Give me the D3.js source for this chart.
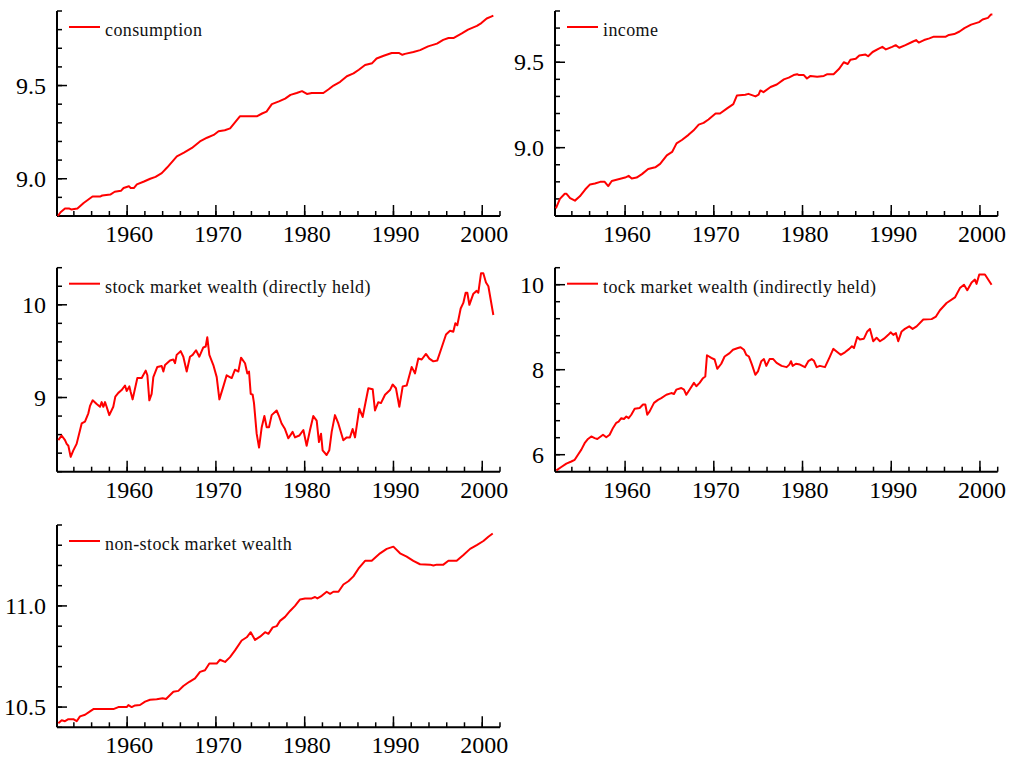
<!DOCTYPE html>
<html>
<head>
<meta charset="utf-8">
<script src="https://cdn.jsdelivr.net/npm/d3@7"></script>
<style>
  body { margin: 0; background: #fff; }
  svg { display: block; font-family: "Liberation Serif", "Times New Roman", serif; }
</style>
</head>
<body>
<svg width="1010" height="758"></svg>
<script>
// x axis: year ticks
var yearDomain = [1952.1, 2002];
var yearLabels = [1960, 1970, 1980, 1990, 2000];
var yearMinor = d3.range(1954, 2003, 2);

// series: [year, log value]
var consumption = [[1952.2,8.80],[1952.5,8.82],[1953.0,8.84],[1953.5,8.84],[1953.7,8.835],[1954.4,8.84],[1955.1,8.87],[1956.1,8.905],[1957.0,8.905],[1957.2,8.91],[1958.1,8.915],[1958.6,8.93],[1959.3,8.935],[1959.6,8.95],[1960.2,8.96],[1960.4,8.95],[1960.75,8.95],[1961.1,8.97],[1961.9,8.985],[1962.6,9.0],[1963.2,9.01],[1963.9,9.03],[1964.5,9.06],[1965.6,9.12],[1966.4,9.14],[1967.3,9.165],[1968.2,9.20],[1969.0,9.22],[1969.75,9.235],[1970.3,9.255],[1971.0,9.26],[1971.6,9.27],[1972.7,9.335],[1974.6,9.335],[1975.2,9.35],[1975.7,9.36],[1976.3,9.40],[1977.1,9.415],[1977.8,9.43],[1978.4,9.45],[1979.1,9.46],[1979.7,9.47],[1980.25,9.455],[1980.8,9.46],[1982.1,9.46],[1982.7,9.48],[1983.25,9.50],[1984.0,9.52],[1984.75,9.55],[1985.5,9.565],[1986.1,9.585],[1986.8,9.61],[1987.6,9.62],[1988.1,9.645],[1988.9,9.66],[1989.8,9.675],[1990.6,9.675],[1991.0,9.665],[1991.3,9.67],[1992.25,9.68],[1993.0,9.69],[1993.9,9.71],[1994.9,9.725],[1995.6,9.745],[1996.2,9.755],[1996.75,9.755],[1997.7,9.78],[1998.4,9.80],[1999.4,9.82],[1999.9,9.835],[2000.5,9.86],[2001.0,9.87],[2001.25,9.875]];

var income = [[1952.2,8.645],[1952.65,8.70],[1953.2,8.73],[1953.4,8.73],[1953.8,8.705],[1954.35,8.69],[1954.9,8.715],[1955.5,8.755],[1956.05,8.785],[1956.6,8.79],[1957.2,8.80],[1957.7,8.80],[1958.1,8.775],[1958.5,8.805],[1959.25,8.815],[1960.0,8.825],[1960.4,8.835],[1960.75,8.82],[1961.3,8.825],[1961.9,8.845],[1962.6,8.875],[1963.4,8.885],[1963.95,8.905],[1964.7,8.955],[1965.3,8.975],[1965.8,9.025],[1966.4,9.045],[1967.15,9.075],[1967.7,9.10],[1968.3,9.135],[1968.85,9.145],[1969.4,9.165],[1970.2,9.20],[1970.7,9.20],[1971.5,9.23],[1972.2,9.255],[1972.6,9.305],[1973.55,9.31],[1973.9,9.315],[1974.7,9.30],[1975.05,9.31],[1975.25,9.335],[1975.6,9.325],[1976.4,9.355],[1977.1,9.37],[1977.9,9.40],[1978.45,9.41],[1979.0,9.425],[1979.4,9.43],[1979.6,9.425],[1980.15,9.425],[1980.5,9.405],[1980.9,9.42],[1981.65,9.415],[1982.4,9.42],[1982.8,9.43],[1983.5,9.43],[1984.1,9.46],[1984.65,9.50],[1985.1,9.49],[1985.4,9.515],[1986.0,9.52],[1986.4,9.54],[1987.1,9.545],[1987.4,9.535],[1987.9,9.56],[1988.6,9.58],[1989.0,9.59],[1989.4,9.575],[1990.1,9.59],[1990.5,9.60],[1990.9,9.585],[1991.6,9.60],[1992.4,9.62],[1992.8,9.63],[1993.1,9.615],[1993.7,9.63],[1994.3,9.64],[1994.8,9.65],[1996.15,9.65],[1996.5,9.66],[1997.1,9.665],[1997.7,9.68],[1998.25,9.70],[1999.0,9.72],[1999.9,9.735],[2000.3,9.75],[2000.9,9.76],[2001.25,9.78],[2001.4,9.78]];

var stockDirect = [[1952.25,8.54],[1952.62,8.59],[1953.0,8.54],[1953.19,8.50],[1953.38,8.48],[1953.64,8.36],[1953.94,8.43],[1954.31,8.50],[1954.88,8.72],[1955.25,8.74],[1955.63,8.83],[1955.82,8.91],[1956.12,8.97],[1956.57,8.93],[1956.94,8.90],[1957.13,8.95],[1957.32,8.90],[1957.51,8.95],[1957.69,8.90],[1957.99,8.81],[1958.44,8.90],[1958.67,9.01],[1959.01,9.05],[1959.38,9.08],[1959.76,9.13],[1959.95,9.07],[1960.25,9.12],[1960.4,9.06],[1960.62,8.98],[1961.15,9.21],[1961.64,9.21],[1962.09,9.29],[1962.28,9.24],[1962.5,8.97],[1962.76,9.04],[1962.95,9.22],[1963.4,9.33],[1963.89,9.34],[1964.08,9.28],[1964.27,9.35],[1964.83,9.40],[1965.2,9.41],[1965.39,9.37],[1965.58,9.46],[1966.03,9.50],[1966.33,9.44],[1966.71,9.28],[1967.08,9.44],[1967.38,9.46],[1967.76,9.51],[1968.13,9.44],[1968.58,9.54],[1968.85,9.55],[1969.03,9.65],[1969.26,9.46],[1969.71,9.35],[1970.09,9.22],[1970.39,8.98],[1970.84,9.12],[1971.21,9.24],[1971.78,9.21],[1972.15,9.30],[1972.53,9.28],[1972.83,9.43],[1973.28,9.37],[1973.54,9.26],[1973.73,9.28],[1973.92,9.04],[1974.14,9.03],[1974.29,8.94],[1974.59,8.61],[1974.86,8.46],[1975.16,8.68],[1975.46,8.80],[1975.72,8.68],[1975.98,8.68],[1976.28,8.81],[1976.84,8.86],[1977.14,8.79],[1977.4,8.72],[1977.78,8.66],[1978.16,8.56],[1978.64,8.63],[1978.91,8.57],[1979.39,8.59],[1979.85,8.65],[1980.22,8.48],[1980.6,8.65],[1980.97,8.80],[1981.35,8.75],[1981.61,8.52],[1981.84,8.61],[1982.02,8.43],[1982.47,8.38],[1982.77,8.43],[1983.04,8.63],[1983.41,8.81],[1983.79,8.72],[1984.35,8.54],[1984.73,8.57],[1985.1,8.57],[1985.4,8.66],[1985.67,8.57],[1986.15,8.88],[1986.53,8.79],[1987.17,9.10],[1987.66,9.09],[1987.92,8.86],[1988.29,8.95],[1988.59,8.94],[1989.05,9.03],[1989.61,9.08],[1989.91,9.14],[1990.28,9.10],[1990.66,8.90],[1991.04,9.12],[1991.49,9.13],[1992.05,9.33],[1992.42,9.26],[1992.8,9.42],[1993.18,9.41],[1993.66,9.47],[1994.04,9.42],[1994.49,9.39],[1994.94,9.40],[1995.43,9.54],[1995.92,9.68],[1996.37,9.72],[1996.74,9.71],[1996.97,9.80],[1997.19,9.78],[1997.57,9.96],[1997.87,10.02],[1998.13,10.13],[1998.32,10.13],[1998.55,10.0],[1999.0,10.12],[1999.37,10.15],[1999.56,10.13],[1999.86,10.34],[2000.12,10.34],[2000.42,10.24],[2000.69,10.20],[2001.25,9.89]];

var stockIndirect = [[1952.25,5.63],[1952.81,5.71],[1953.38,5.79],[1953.94,5.84],[1954.32,5.88],[1954.69,6.0],[1955.07,6.12],[1955.44,6.27],[1955.82,6.37],[1956.19,6.43],[1956.57,6.39],[1956.87,6.37],[1957.25,6.43],[1957.51,6.47],[1957.88,6.41],[1958.26,6.47],[1958.64,6.63],[1959.01,6.75],[1959.27,6.78],[1959.57,6.86],[1959.87,6.84],[1960.14,6.90],[1960.4,6.86],[1960.7,6.94],[1961.08,7.08],[1961.64,7.10],[1962.02,7.18],[1962.28,7.18],[1962.5,6.94],[1962.77,7.02],[1963.26,7.22],[1963.71,7.29],[1964.08,7.33],[1964.65,7.41],[1965.21,7.45],[1965.51,7.43],[1965.77,7.53],[1966.34,7.57],[1966.64,7.53],[1966.9,7.41],[1967.39,7.57],[1967.76,7.69],[1968.03,7.61],[1968.4,7.69],[1968.78,7.80],[1969.04,7.84],[1969.23,8.34],[1969.72,8.28],[1970.09,8.24],[1970.39,8.02],[1970.84,8.14],[1971.22,8.31],[1971.78,8.39],[1972.16,8.47],[1972.72,8.51],[1973.02,8.53],[1973.4,8.47],[1973.66,8.35],[1973.96,8.31],[1974.3,8.12],[1974.68,7.88],[1974.98,7.96],[1975.35,8.20],[1975.65,8.25],[1975.92,8.09],[1976.29,8.25],[1976.7,8.25],[1977.08,8.16],[1977.64,8.09],[1978.21,8.06],[1978.51,8.12],[1978.7,8.20],[1978.89,8.09],[1979.26,8.14],[1979.71,8.12],[1980.27,8.06],[1980.65,8.20],[1981.03,8.25],[1981.29,8.21],[1981.59,8.06],[1981.96,8.09],[1982.53,8.06],[1983.02,8.28],[1983.47,8.49],[1983.84,8.43],[1984.3,8.35],[1984.78,8.41],[1985.27,8.49],[1985.57,8.55],[1985.8,8.51],[1986.17,8.77],[1986.47,8.71],[1986.92,8.73],[1987.3,8.90],[1987.6,8.96],[1987.97,8.67],[1988.35,8.75],[1988.73,8.67],[1989.18,8.73],[1989.67,8.82],[1989.93,8.88],[1990.23,8.82],[1990.53,8.86],[1990.79,8.67],[1991.17,8.90],[1991.54,8.96],[1992.03,9.02],[1992.41,8.96],[1992.86,9.02],[1993.61,9.18],[1994.55,9.19],[1995.04,9.25],[1995.49,9.40],[1996.24,9.57],[1997.18,9.70],[1997.74,9.92],[1998.2,10.0],[1998.57,9.87],[1999.06,10.05],[1999.43,10.12],[1999.62,10.02],[1999.92,10.24],[2000.56,10.24],[2001.31,10.0]];

var nonStock = [[1952.25,10.42],[1952.63,10.435],[1953.0,10.43],[1953.38,10.44],[1953.94,10.44],[1954.32,10.43],[1954.69,10.454],[1955.26,10.462],[1955.82,10.479],[1956.2,10.49],[1958.45,10.49],[1959.01,10.50],[1959.95,10.50],[1960.14,10.51],[1960.51,10.50],[1960.89,10.508],[1961.45,10.51],[1962.02,10.527],[1962.58,10.536],[1963.33,10.539],[1964.0,10.544],[1964.38,10.54],[1965.21,10.576],[1965.77,10.58],[1966.33,10.604],[1967.01,10.625],[1967.65,10.642],[1968.21,10.674],[1968.77,10.682],[1969.26,10.715],[1970.09,10.715],[1970.46,10.734],[1971.03,10.723],[1971.59,10.747],[1972.15,10.78],[1972.9,10.829],[1973.47,10.845],[1973.92,10.87],[1974.41,10.832],[1974.97,10.848],[1975.54,10.87],[1975.91,10.862],[1976.4,10.894],[1976.85,10.90],[1977.22,10.926],[1977.79,10.946],[1978.35,10.975],[1978.91,11.0],[1979.48,11.032],[1980.04,11.037],[1980.79,11.037],[1981.17,11.044],[1981.43,11.037],[1981.92,11.05],[1982.48,11.07],[1982.86,11.06],[1983.23,11.07],[1983.8,11.07],[1984.36,11.106],[1984.92,11.122],[1985.49,11.146],[1986.05,11.184],[1986.8,11.223],[1987.55,11.223],[1988.49,11.26],[1989.24,11.282],[1989.99,11.293],[1990.74,11.26],[1991.49,11.244],[1992.24,11.223],[1992.99,11.206],[1994.12,11.204],[1994.5,11.20],[1994.87,11.204],[1995.62,11.204],[1996.19,11.223],[1997.12,11.223],[1997.88,11.252],[1998.63,11.282],[1999.38,11.301],[2000.13,11.321],[2000.69,11.342],[2001.18,11.358]];

var seriesNames = ['consumption', 'income', 'stock market wealth (directly held)',
                   'tock market wealth (indirectly held)', 'non-stock market wealth'];

var panels = [
  {data: consumption,   name: seriesNames[0], yDom: [8.8, 9.9],  major: [9.0, 9.5],   step: 0.1, fmt: '.1f', x: [57, 500],    y: [216, 11]},
  {data: income,        name: seriesNames[1], yDom: [8.6, 9.8],  major: [9.0, 9.5],   step: 0.1, fmt: '.1f', x: [555, 997.7], y: [216, 11]},
  {data: stockDirect,   name: seriesNames[2], yDom: [8.2, 10.4], major: [9, 10],      step: 0.2, fmt: 'd',   x: [57, 500],    y: [471.7, 267.7]},
  {data: stockIndirect, name: seriesNames[3], yDom: [5.6, 10.4], major: [6, 8, 10],   step: 0.4, fmt: 'd',   x: [555, 997.7], y: [471.7, 267.7]},
  {data: nonStock,      name: seriesNames[4], yDom: [10.4, 11.4], major: [10.5, 11.0], step: 0.1, fmt: '.1f', x: [57, 500],    y: [727.3, 525]}
];

var svg = d3.select('svg');

panels.forEach(function(p) {
  var x = d3.scaleLinear().domain(yearDomain).range(p.x);
  var y = d3.scaleLinear().domain(p.yDom).range(p.y);
  var g = svg.append('g');

  // minor ticks on y
  var n = Math.round((p.yDom[1] - p.yDom[0]) / p.step);
  var yMinor = d3.range(0, n + 1).map(function(i) { return +(p.yDom[0] + i * p.step).toFixed(3); });

  g.selectAll('.ymin').data(yMinor).enter().append('line')
    .attr('x1', p.x[0]).attr('x2', p.x[0] + 5)
    .attr('y1', function(d) { return y(d); }).attr('y2', function(d) { return y(d); })
    .attr('stroke', '#000').attr('stroke-width', 1.5);

  g.selectAll('.ymaj').data(p.major).enter().append('line')
    .attr('x1', p.x[0]).attr('x2', p.x[0] + 10)
    .attr('y1', function(d) { return y(d); }).attr('y2', function(d) { return y(d); })
    .attr('stroke', '#000').attr('stroke-width', 1.5);

  g.selectAll('.ylab').data(p.major).enter().append('text')
    .attr('x', p.x[0] - 11)
    .attr('y', function(d) { return y(d) + 8; })
    .attr('text-anchor', 'end')
    .attr('font-size', 24)
    .text(function(d) { return d3.format(p.fmt)(d); });

  // x ticks
  g.selectAll('.xmin').data(yearMinor).enter().append('line')
    .attr('x1', function(d) { return x(d); }).attr('x2', function(d) { return x(d); })
    .attr('y1', p.y[0]).attr('y2', p.y[0] - 5)
    .attr('stroke', '#000').attr('stroke-width', 1.5);

  g.selectAll('.xmaj').data(yearLabels).enter().append('line')
    .attr('x1', function(d) { return x(d); }).attr('x2', function(d) { return x(d); })
    .attr('y1', p.y[0]).attr('y2', p.y[0] - 11)
    .attr('stroke', '#000').attr('stroke-width', 1.5);

  g.selectAll('.xlab').data(yearLabels).enter().append('text')
    .attr('x', function(d) { return x(d) + 2; })
    .attr('y', p.y[0] + 26)
    .attr('text-anchor', 'middle')
    .attr('font-size', 24)
    .text(function(d) { return d; });

  // axis lines
  g.append('line')
    .attr('x1', p.x[0]).attr('x2', p.x[0])
    .attr('y1', p.y[0]).attr('y2', p.y[1])
    .attr('stroke', '#000').attr('stroke-width', 2);
  g.append('line')
    .attr('x1', p.x[0]).attr('x2', p.x[1])
    .attr('y1', p.y[0]).attr('y2', p.y[0])
    .attr('stroke', '#000').attr('stroke-width', 2);

  // series line
  var line = d3.line()
    .x(function(d) { return x(d[0]); })
    .y(function(d) { return y(d[1]); });

  g.append('path')
    .datum(p.data)
    .attr('d', line)
    .attr('fill', 'none')
    .attr('stroke', '#ff0000')
    .attr('stroke-width', 2)
    .attr('stroke-linejoin', 'round');

  // legend
  var ly = p.y[1] + 16;
  g.append('line')
    .attr('x1', p.x[0] + 12).attr('x2', p.x[0] + 43)
    .attr('y1', ly).attr('y2', ly)
    .attr('stroke', '#ff0000').attr('stroke-width', 2);
  g.append('text')
    .attr('x', p.x[0] + 48)
    .attr('y', ly + 9)
    .attr('font-size', 18)
    .attr('letter-spacing', 0.4)
    .attr('fill', '#111')
    .text(p.name);
});
</script>
</body>
</html>
